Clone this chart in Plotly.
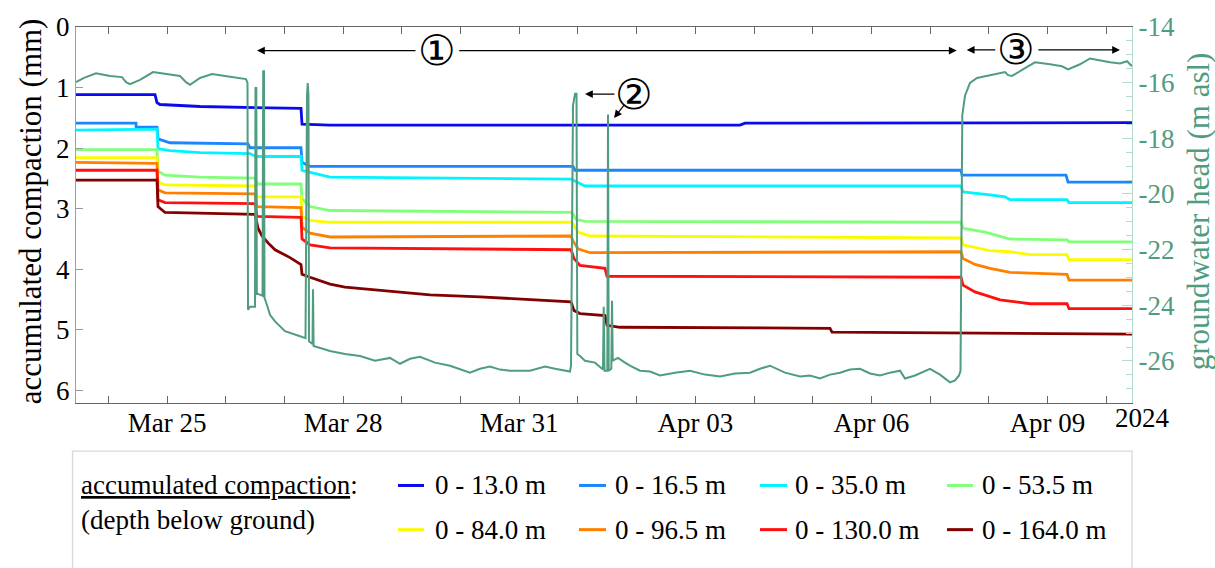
import pandas as pd
import plotly.graph_objects as go

# Elapsed time is counted in hours from this reference instant
T0 = pd.Timestamp("2024-03-23 00:00")

# ---- accumulated compaction (mm) per extensometer depth interval ----
depth_labels = ["0 - 13.0 m", "0 - 16.5 m", "0 - 35.0 m", "0 - 53.5 m",
                "0 - 84.0 m", "0 - 96.5 m", "0 - 130.0 m", "0 - 164.0 m"]
depth_colors = ["#0a0aee", "#1c86ff", "#00f4ff", "#82ff7a",
                "#fbfb00", "#ff8000", "#ff1010", "#820000"]

hours_13 = [10.79, 43.09, 43.91, 45.14, 61.49, 81.94, 102.79, 103.20, 114.64, 282.28, 284.32, 442.55]
comp_13 = [1.118, 1.118, 1.248, 1.280, 1.313, 1.329, 1.345, 1.605, 1.621, 1.621, 1.588, 1.580]

hours_16 = [10.79, 35.33, 35.40, 43.91, 44.32, 49.23, 81.12, 81.94, 102.79, 103.20, 106.47,
            214.00, 214.82, 372.64, 373.04, 415.57, 416.39, 442.55]
comp_16 = [1.588, 1.588, 1.653, 1.653, 1.848, 1.912, 1.929, 1.994, 1.994, 2.237, 2.301,
           2.301, 2.366, 2.366, 2.447, 2.447, 2.561, 2.561]

hours_35 = [10.79, 43.91, 44.32, 49.23, 61.49, 81.94, 84.39, 102.79, 103.20, 114.64, 213.18,
            218.90, 372.64, 373.45, 384.49, 390.63, 392.67, 415.98, 416.80, 442.55]
comp_35 = [1.702, 1.686, 2.010, 2.042, 2.075, 2.091, 2.139, 2.139, 2.366, 2.480, 2.512,
           2.626, 2.626, 2.723, 2.771, 2.804, 2.852, 2.852, 2.901, 2.901]

hours_53 = [10.79, 43.91, 44.32, 47.18, 61.49, 83.98, 84.80, 102.79, 103.20, 106.47, 114.64,
            213.59, 215.23, 218.90, 372.64, 373.45, 382.45, 388.58, 392.67, 415.98, 416.80, 442.55]
comp_53 = [2.026, 2.026, 2.382, 2.447, 2.480, 2.496, 2.593, 2.593, 2.836, 2.966, 3.031,
           3.063, 3.177, 3.209, 3.225, 3.323, 3.387, 3.452, 3.501, 3.517, 3.549, 3.549]

hours_84 = [10.79, 43.91, 44.32, 47.18, 83.98, 84.80, 102.79, 103.20, 106.47, 114.64, 213.59,
            216.04, 220.95, 372.64, 373.45, 384.49, 392.67, 400.85, 415.98, 416.80, 442.55]
comp_84 = [2.156, 2.156, 2.561, 2.609, 2.626, 2.804, 2.804, 3.128, 3.193, 3.225, 3.225,
           3.387, 3.452, 3.485, 3.598, 3.695, 3.712, 3.760, 3.760, 3.841, 3.841]

hours_96 = [10.79, 43.91, 44.32, 47.18, 83.98, 84.80, 102.79, 103.20, 106.47, 114.64, 213.18,
            214.00, 216.04, 220.95, 372.64, 373.45, 378.36, 384.49, 392.67, 415.98, 416.80, 442.55]
comp_96 = [2.237, 2.253, 2.690, 2.739, 2.755, 2.966, 2.982, 3.306, 3.404, 3.468, 3.452,
           3.533, 3.663, 3.728, 3.712, 3.825, 3.922, 3.987, 4.052, 4.084, 4.182, 4.182]

hours_130 = [10.79, 43.91, 44.32, 47.18, 83.98, 84.80, 102.79, 103.20, 106.47, 114.64, 213.18,
             214.41, 216.86, 227.08, 227.90, 372.64, 373.45, 378.36, 388.58, 400.85, 415.98,
             416.80, 442.55]
comp_130 = [2.366, 2.366, 2.853, 2.901, 2.917, 3.128, 3.144, 3.501, 3.598, 3.647, 3.679,
            3.825, 3.938, 3.987, 4.117, 4.133, 4.263, 4.376, 4.506, 4.571, 4.571,
            4.652, 4.652]

hours_164 = [10.79, 43.91, 44.32, 47.18, 83.98, 85.21, 86.84, 89.30, 92.16, 98.29, 102.79,
             103.20, 106.47, 114.64, 120.78, 143.26, 155.53, 175.97, 192.33, 213.18, 214.41,
             216.86, 227.08, 227.90, 233.21, 319.08, 319.90, 442.55]
comp_164 = [2.528, 2.528, 2.966, 3.063, 3.096, 3.323, 3.452, 3.566, 3.679, 3.809, 3.922,
            4.084, 4.133, 4.246, 4.295, 4.376, 4.425, 4.457, 4.489, 4.538, 4.684,
            4.733, 4.765, 4.927, 4.959, 4.976, 5.041, 5.073]

comp_hours = [hours_13, hours_16, hours_35, hours_53, hours_84, hours_96, hours_130, hours_164]
comp_values = [comp_13, comp_16, comp_35, comp_53, comp_84, comp_96, comp_130, comp_164]

# ---- groundwater head (m asl) ----
gw_hours = [10.79, 14.06, 18.97, 24.70, 29.60, 31.24, 32.87, 36.96, 42.28, 47.18, 53.32, 55.77,
            57.40, 61.49, 66.40, 71.71, 74.98, 77.85, 80.30, 80.91, 81.12, 81.94, 83.98, 84.18,
            84.51, 84.72, 85.21, 87.05, 87.33, 87.66, 87.86, 88.48, 90.11, 92.16, 96.24, 102.38,
            104.63, 105.24, 105.53, 105.85, 106.06, 107.49, 107.69, 107.94, 110.56, 114.64,
            120.78, 126.91, 133.04, 139.17, 143.26, 147.35, 151.44, 157.58, 163.71, 171.88,
            175.97, 180.06, 184.15, 188.24, 196.42, 202.55, 206.64, 212.77, 213.18, 214.00,
            214.82, 215.43, 215.76, 216.86, 218.90, 222.99, 226.26, 226.55, 226.88, 228.02,
            228.31, 228.60, 229.66, 229.95, 230.23, 232.40, 235.26, 237.30, 241.39, 245.48,
            249.57, 255.70, 261.83, 267.97, 274.10, 280.23, 286.37, 290.45, 294.54, 300.68,
            306.81, 310.90, 314.99, 319.08, 323.17, 327.25, 331.34, 335.43, 339.52, 343.61,
            347.70, 349.74, 353.83, 359.96, 364.05, 368.14, 370.18, 371.82, 372.43, 372.84,
            373.17, 374.27, 376.31, 379.18, 384.49, 388.58, 390.63, 391.85, 393.49, 398.80,
            402.89, 409.03, 413.93, 416.39, 421.29, 425.38, 429.47, 433.56, 437.65, 440.51,
            442.55]
gw_head = [-15.98, -15.83, -15.66, -15.76, -15.80, -15.98, -16.05, -15.90, -15.62, -15.69,
           -15.76, -15.98, -16.08, -15.83, -15.69, -15.76, -15.80, -15.83, -15.87, -16.01,
           -24.16, -24.05, -24.05, -16.19, -16.19, -23.59, -23.59, -23.66, -15.59, -15.59,
           -23.74, -23.88, -24.34, -24.58, -24.93, -25.11, -25.18, -16.47, -16.01, -16.47,
           -25.29, -25.39, -23.42, -25.46, -25.53, -25.64, -25.75, -25.82, -25.99, -25.89,
           -26.10, -25.92, -25.85, -26.06, -26.17, -26.42, -26.28, -26.20, -26.31, -26.35,
           -26.35, -26.20, -26.28, -26.38, -26.17, -16.82, -16.40, -16.40, -25.75, -25.82,
           -25.99, -26.06, -26.31, -24.05, -26.35, -26.35, -17.14, -26.35, -26.28, -23.84,
           -25.99, -25.89, -26.06, -26.17, -26.35, -26.38, -26.52, -26.42, -26.35, -26.49,
           -26.56, -26.45, -26.42, -26.28, -26.17, -26.42, -26.56, -26.52, -26.63, -26.49,
           -26.42, -26.31, -26.28, -26.45, -26.52, -26.42, -26.35, -26.63, -26.52, -26.28,
           -26.49, -26.77, -26.70, -26.52, -26.35, -20.35, -17.17, -16.47, -16.01, -15.83,
           -15.73, -15.66, -15.62, -15.73, -15.76, -15.48, -15.27, -15.34, -15.41, -15.52,
           -15.34, -15.13, -15.20, -15.27, -15.31, -15.23, -15.41]

# axis ticks
comp_ticks = [0, 1, 2, 3, 4, 5, 6]
head_ticks = [-14, -16, -18, -20, -22, -24, -26]
head_ticktext = ["-14", "-16", "-18", "-20", "-22", "-24", "-26"]

GW_COLOR = "#4f9c7f"
GW_AXIS = "#b3dccb"
SERIF = "Liberation Serif"


def to_time(hours):
    return T0 + pd.to_timedelta(hours, unit="h")


def serif(size=27, color="black"):
    return dict(family=SERIF, size=size, color=color)


fig = go.Figure()

for hrs, vals, color, name in zip(comp_hours, comp_values, depth_colors, depth_labels):
    fig.add_trace(go.Scatter(x=to_time(hrs), y=vals, mode="lines", name=name,
                             line=dict(color=color, width=2.8), yaxis="y"))

fig.add_trace(go.Scatter(x=to_time(gw_hours), y=gw_head, mode="lines",
                         name="groundwater head", line=dict(color=GW_COLOR, width=2),
                         yaxis="y2"))

t_start = to_time([gw_hours[0]])[0]
t_end = to_time([gw_hours[-1]])[0]
DAY_MS = 86400000

fig.update_layout(
    width=1215, height=568,
    margin=dict(l=76, r=83, t=20, b=165),
    paper_bgcolor="white", plot_bgcolor="white",
    showlegend=False,
    font=serif(),
    xaxis=dict(
        type="date", range=[t_start, t_end],
        tick0="2024-03-25", dtick=3 * DAY_MS, tickformat="%b %d",
        ticks="inside", ticklen=7, tickcolor="#666", tickwidth=1,
        showline=True, linecolor="#666", linewidth=1, mirror="ticks",
        showgrid=False, zeroline=False, ticklabelstandoff=-4,
        minor=dict(tick0="2024-03-25", dtick=DAY_MS, ticks="inside", ticklen=7,
                   tickcolor="#666", showgrid=False),
        tickfont=serif(),
    ),
    yaxis=dict(
        range=[6.21, 0], tickmode="array", tickvals=comp_ticks,
        ticks="inside", ticklen=7, tickcolor="#999",
        showline=True, linecolor="#a0a0a0", linewidth=1,
        showgrid=False, zeroline=False,
        tickfont=serif(),
    ),
    yaxis2=dict(
        overlaying="y", side="right", range=[-27.51, -14],
        tickmode="array", tickvals=head_ticks, ticktext=head_ticktext,
        ticks="inside", ticklen=10, tickcolor=GW_AXIS,
        showline=True, linecolor=GW_AXIS, linewidth=1,
        showgrid=False, zeroline=False,
        minor=dict(tick0=-14, dtick=0.5, ticks="inside", ticklen=6,
                   tickcolor=GW_AXIS, showgrid=False),
        tickfont=serif(color=GW_COLOR),
    ),
)

annotations = []

# axis titles
annotations.append(dict(text="accumulated compaction (mm)", xref="paper", yref="paper",
                        x=-0.0436, y=0.51, textangle=-90, showarrow=False,
                        xanchor="center", yanchor="middle", font=serif(31)))
annotations.append(dict(text="groundwater head (m asl)", xref="paper", yref="paper",
                        x=1.0625, y=0.51, textangle=-90, showarrow=False,
                        xanchor="center", yanchor="middle", font=serif(31, GW_COLOR)))
annotations.append(dict(text="2024", xref="paper", yref="paper", x=1.0104, y=-0.041,
                        showarrow=False, xanchor="center", yanchor="middle", font=serif()))

# phase markers
ARROW = dict(showarrow=True, arrowhead=2, arrowsize=1.3, arrowwidth=1.2,
             arrowcolor="black", text="", xref="paper", yref="paper")
for x, y, ax, ay in [(0.1714, 0.9373, 160, 0), (0.8340, 0.9373, -499, 0),
                     (0.8435, 0.9391, 30, 0), (0.9886, 0.9391, -83, 0),
                     (0.4820, 0.8217, 31, 0), (0.5095, 0.7580, 11, -14)]:
    annotations.append(dict(ARROW, x=x, y=y, ax=ax, ay=ay))

for txt, x, y in [("\u2460", 0.3419, 0.9373), ("\u2462", 0.8902, 0.9391),
                  ("\u2461", 0.5287, 0.8217)]:
    annotations.append(dict(text=txt, xref="paper", yref="paper", x=x, y=y,
                            showarrow=False, xanchor="center", yanchor="middle",
                            font=dict(family="DejaVu Sans", size=42, color="black")))


# legend panel
def px_x(x):
    return (x - 76) / 1056


def px_y(y):
    return (403 - y) / 383


shapes = [dict(type="rect", xref="paper", yref="paper",
               x0=px_x(72.5), x1=px_x(1132), y0=px_y(452), y1=px_y(600),
               line=dict(color="#d8d8d8", width=1.3), fillcolor="white", layer="below")]

annotations.append(dict(text="<u>accumulated compaction</u>:", xref="paper", yref="paper",
                        x=px_x(79), y=px_y(487), showarrow=False, xanchor="left",
                        yanchor="middle", font=serif()))
annotations.append(dict(text="(depth below ground)", xref="paper", yref="paper",
                        x=px_x(79), y=px_y(522), showarrow=False, xanchor="left",
                        yanchor="middle", font=serif()))

col_line = [(398, 424), (579, 606), (760, 787), (947, 973)]
col_text = [433, 613, 793, 980]
row_y = [487, 532]
for i, (label, color) in enumerate(zip(depth_labels, depth_colors)):
    r, c = divmod(i, 4)
    shapes.append(dict(type="line", xref="paper", yref="paper",
                       x0=px_x(col_line[c][0]), x1=px_x(col_line[c][1]),
                       y0=px_y(row_y[r]), y1=px_y(row_y[r]),
                       line=dict(color=color, width=3)))
    annotations.append(dict(text=label, xref="paper", yref="paper",
                            x=px_x(col_text[c]), y=px_y(row_y[r]), showarrow=False,
                            xanchor="left", yanchor="middle", font=serif()))

fig.update_layout(annotations=annotations, shapes=shapes)

fig.write_html("out.html")
